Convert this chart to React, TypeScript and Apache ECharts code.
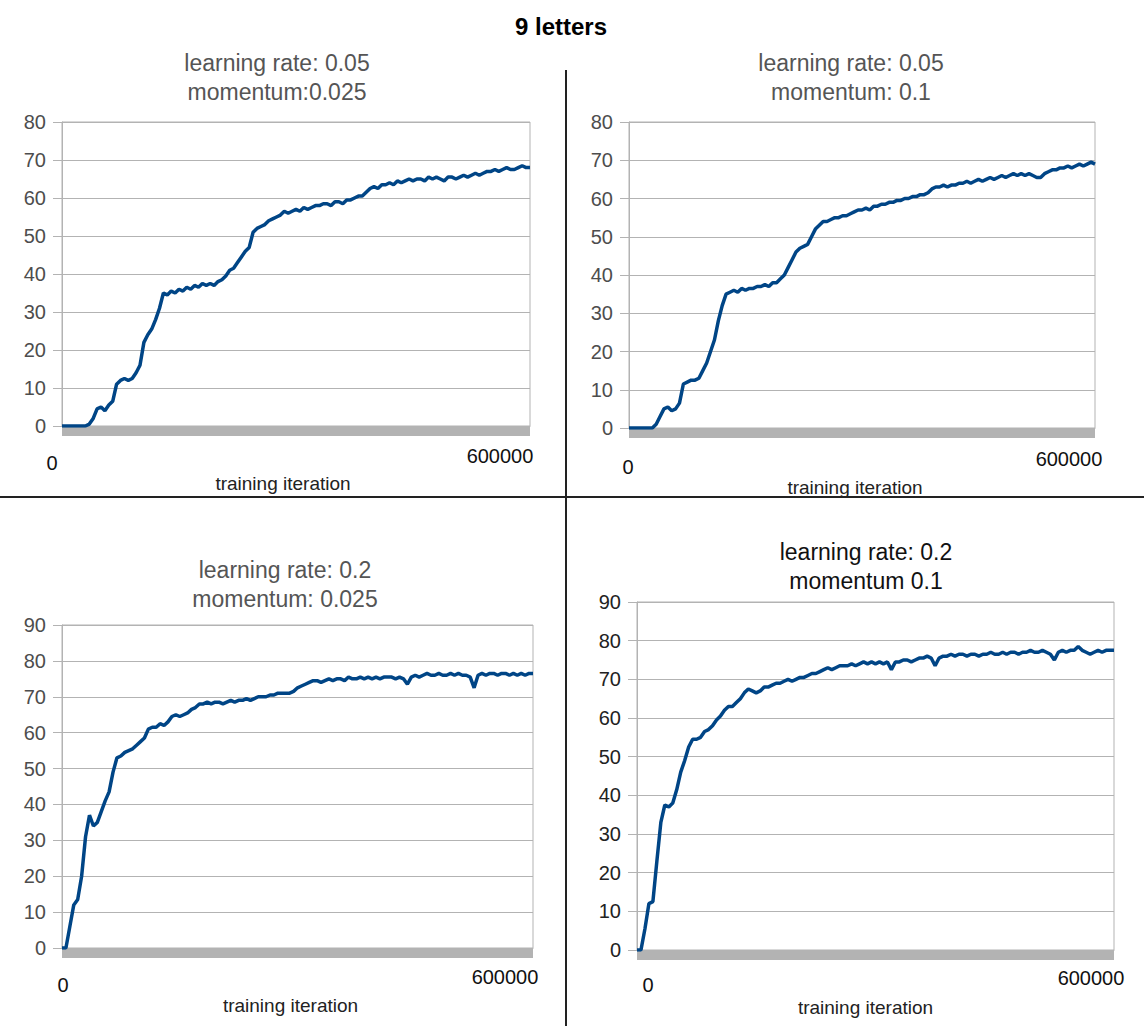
import React, { useEffect, useRef } from "react";
import * as echarts from "echarts";

// iteration step between samples (0 .. 600000)
const STEP = 5000;
const X_TICKS = ["0", "600000"];
const X_NAME = "training iteration";
const MAIN_TITLE = "9 letters";

const TITLES = [
  "learning rate: 0.05\nmomentum:0.025",
  "learning rate: 0.05\nmomentum: 0.1",
  "learning rate: 0.2\nmomentum: 0.025",
  "learning rate: 0.2\nmomentum 0.1",
];

const Y_MAX = [80, 80, 90, 90];

// lr 0.05, momentum 0.025
const seriesA = [
  0, 0, 0, 0, 0, 0, 0, 0.5, 2, 4.5, 5, 4, 5.5, 6.5, 11, 12, 12.5, 12, 12.5, 14,
  16, 22, 24, 25.5, 28, 31, 35, 34.5, 35.5, 35, 36, 35.5, 36.5, 36, 37, 36.5, 37.5, 37, 37.5, 37,
  38, 38.5, 39.5, 41, 41.5, 43, 44.5, 46, 47, 51, 52, 52.5, 53, 54, 54.5, 55, 55.5, 56.5, 56, 56.5,
  57, 56.5, 57.5, 57, 57.5, 58, 58, 58.5, 58.5, 58, 59, 59, 58.5, 59.5, 59.5, 60, 60.5, 60.5, 61.5, 62.5,
  63, 62.5, 63.5, 63.5, 64, 63.5, 64.5, 64, 64.5, 65, 64.5, 65, 65, 64.5, 65.5, 65, 65.5, 65, 64.5, 65.5,
  65.5, 65, 65.5, 66, 65.5, 66, 66.5, 66, 66.5, 67, 67, 67.5, 67, 67.5, 68, 67.5, 67.5, 68, 68.5, 68,
  68,
];

// lr 0.05, momentum 0.1
const seriesB = [
  0, 0, 0, 0, 0, 0, 0, 1, 3, 5, 5.5, 4.5, 5, 6.5, 11.5, 12, 12.5, 12.5, 13, 15,
  17, 20, 23, 28, 32, 35, 35.5, 36, 35.5, 36.5, 36, 36.5, 36.5, 37, 37, 37.5, 37, 38, 38, 39,
  40, 42, 44, 46, 47, 47.5, 48, 50, 52, 53, 54, 54, 54.5, 55, 55, 55.5, 55.5, 56, 56.5, 57,
  57, 57.5, 57, 58, 58, 58.5, 58.5, 59, 59, 59.5, 59.5, 60, 60, 60.5, 60.5, 61, 61, 61.5, 62.5, 63,
  63, 63.5, 63, 63.5, 63.5, 64, 64, 64.5, 64, 64.5, 65, 64.5, 65, 65.5, 65, 65.5, 66, 65.5, 66, 66.5,
  66, 66.5, 66, 66.5, 66, 65.5, 65.5, 66.5, 67, 67.5, 67.5, 68, 68, 68.5, 68, 68.5, 69, 68.5, 69, 69.5,
  69,
];

// lr 0.2, momentum 0.025
const seriesC = [
  0, 0, 6, 12, 13.5, 20, 31, 37, 34, 35, 38, 41, 43.5, 49, 53, 53.5, 54.5, 55, 55.5, 56.5,
  57.5, 58.5, 61, 61.5, 61.5, 62.5, 62, 63, 64.5, 65, 64.5, 65, 65.5, 66.5, 67, 68, 68, 68.5, 68, 68.5,
  68.5, 68, 68.5, 69, 68.5, 69, 69, 69.5, 69, 69.5, 70, 70, 70, 70.5, 70.5, 71, 71, 71, 71, 71.5,
  72.5, 73, 73.5, 74, 74.5, 74.5, 74, 74.5, 75, 74.5, 75, 75, 74.5, 75.5, 75, 75, 75.5, 75, 75.5, 75,
  75.5, 75, 75.5, 75.5, 75.5, 75, 75.5, 75, 73.5, 75.5, 76, 75.5, 76, 76.5, 76, 76, 76.5, 76, 76, 76.5,
  76, 76.5, 76, 76, 75.5, 72.5, 76, 76.5, 76, 76.5, 76.5, 76, 76.5, 76.5, 76, 76.5, 76, 76.5, 76, 76.5,
  76.5,
];

// lr 0.2, momentum 0.1
const seriesD = [
  0, 0, 5.5, 12, 12.5, 23, 33, 37.5, 37, 38, 41.5, 46, 49, 52.5, 54.5, 54.5, 55, 56.5, 57, 58,
  59.5, 60.5, 62, 63, 63, 64, 65, 66.5, 67.5, 67, 66.5, 67, 68, 68, 68.5, 69, 69, 69.5, 70, 69.5,
  70, 70.5, 70.5, 71, 71.5, 71.5, 72, 72.5, 73, 72.5, 73, 73.5, 73.5, 73.5, 74, 73.5, 74, 74.5, 74, 74.5,
  74, 74.5, 74, 74.5, 72.5, 74.5, 74.5, 75, 75, 74.5, 75, 75.5, 75.5, 76, 75.5, 73.5, 75.5, 76, 76, 76.5,
  76, 76.5, 76.5, 76, 76.5, 76.5, 76, 76.5, 76.5, 77, 76.5, 76.5, 77, 76.5, 77, 77, 76.5, 77, 77, 77.5,
  77, 77, 77.5, 77, 76.5, 75, 77, 77.5, 77, 77.5, 77.5, 78.5, 77.5, 77, 76.5, 77, 77.5, 77, 77.5, 77.5,
  77.5,
];

const ALL = [seriesA, seriesB, seriesC, seriesD];

// layout of the four panels
const GRIDS = [
  { left: 62, top: 122, width: 468, height: 304 },
  { left: 629, top: 122, width: 466, height: 306 },
  { left: 62, top: 625, width: 471, height: 323 },
  { left: 637, top: 602, width: 477, height: 348 },
];
const TITLE_POS = [
  { x: 277, y: 48 },
  { x: 851, y: 48 },
  { x: 285, y: 555 },
  { x: 866, y: 537 },
];
// horizontal shift of the "0" label and of the "600000" label (px)
const ZERO_SHIFT = [-10, -1, 1, 11];
const MAX_SHIFT = [-30, -26, -28, -23];
const LABEL_MARGIN = [20, 21, 19, 18];
const ZERO_DROP = [7, 8, 8, 7];
const NAME_GAP = [48, 48, 47, 48];
const NAME_SHIFT = [-13, -7, -7, -10];

const FONT = "Liberation Sans, Arial, sans-serif";
const GRID_COLOR = "#b3b3b3";
const LINE_COLOR = "#004586";

function pad(shift: number): number[] {
  // returns [left, right] padding to shift a centered label by `shift`
  return shift >= 0 ? [2 * shift, 0] : [0, -2 * shift];
}

export default function App() {
  const ref = useRef<HTMLDivElement>(null);
  useEffect(() => {
    if (!ref.current) return;
    const chart = echarts.init(ref.current, undefined, { renderer: "svg" });
    const grid: any[] = [];
    const xAxis: any[] = [];
    const yAxis: any[] = [];
    const series: any[] = [];
    const title: any[] = [
      {
        text: MAIN_TITLE,
        left: 556,
        top: 9,
        textAlign: "center",
        textStyle: { fontFamily: FONT, fontSize: 24, fontWeight: "bold", color: "#000" },
      },
    ];
    for (let i = 0; i < 4; i++) {
      const g = GRIDS[i];
      const dark = i === 3;
      grid.push({
        left: g.left,
        top: g.top,
        width: g.width,
        height: g.height,
        show: true,
        borderColor: GRID_COLOR,
        borderWidth: 1,
        backgroundColor: "transparent",
      });
      title.push({
        text: TITLES[i],
        left: TITLE_POS[i].x,
        top: TITLE_POS[i].y,
        textAlign: "center",
        padding: 0,
        textStyle: {
          fontFamily: FONT,
          fontSize: 23,
          fontWeight: "normal",
          lineHeight: 29,
          color: dark ? "#111" : "#555",
        },
      });
      const zp = pad(ZERO_SHIFT[i]);
      const mp = pad(MAX_SHIFT[i]);
      const ns = pad(NAME_SHIFT[i]);
      xAxis.push({
        type: "value",
        gridIndex: i,
        min: 0,
        max: 600000,
        interval: 600000,
        splitLine: { show: false },
        axisTick: { show: false },
        axisLine: { show: true, lineStyle: { color: GRID_COLOR, width: 1 } },
        axisLabel: {
          margin: LABEL_MARGIN[i],
          showMinLabel: true,
          showMaxLabel: true,
          fontFamily: FONT,
          fontSize: 20,
          color: "#111",
          formatter: (v: number) => (v === 0 ? `{z|${X_TICKS[0]}}` : `{m|${X_TICKS[1]}}`),
          rich: {
            z: { fontFamily: FONT, fontSize: 20, color: "#111", padding: [ZERO_DROP[i], zp[1], 0, zp[0]] },
            m: { fontFamily: FONT, fontSize: 20, color: "#111", padding: [0, mp[1], 0, mp[0]] },
          },
        },
        name: X_NAME,
        nameLocation: "middle",
        nameGap: NAME_GAP[i],
        nameTextStyle: {
          fontFamily: FONT,
          fontSize: 19,
          color: "#222",
          padding: [0, ns[1], 0, ns[0]],
        },
      });
      // grey floor band under the plot area
      xAxis.push({
        type: "value",
        gridIndex: i,
        min: 0,
        max: 600000,
        position: "bottom",
        offset: 5,
        splitLine: { show: false },
        axisTick: { show: false },
        axisLabel: { show: false },
        axisLine: { show: true, lineStyle: { color: GRID_COLOR, width: 9, cap: "butt" } },
      });
      yAxis.push({
        type: "value",
        gridIndex: i,
        min: 0,
        max: Y_MAX[i],
        interval: 10,
        axisLine: { show: true, lineStyle: { color: GRID_COLOR, width: 1 } },
        axisTick: { show: true, length: 9, lineStyle: { color: GRID_COLOR } },
        splitLine: { show: true, lineStyle: { color: GRID_COLOR, width: 1.2 } },
        axisLabel: {
          margin: 16,
          fontFamily: FONT,
          fontSize: 20,
          color: dark ? "#222" : "#4d4d4d",
        },
      });
      series.push({
        type: "line",
        xAxisIndex: i * 2,
        yAxisIndex: i,
        showSymbol: false,
        symbol: "none",
        lineStyle: { color: LINE_COLOR, width: 3.5 },
        data: ALL[i].map((v, k) => [k * STEP, v]),
        z: 5,
      });
    }
    chart.setOption({
      animation: false,
      backgroundColor: "#fff",
      title,
      grid,
      xAxis,
      yAxis,
      series,
      graphic: [
        {
          type: "line",
          shape: { x1: 566, y1: 70, x2: 566, y2: 1026 },
          style: { stroke: "#222", lineWidth: 2 },
        },
        {
          type: "line",
          shape: { x1: 0, y1: 497, x2: 1144, y2: 497 },
          style: { stroke: "#222", lineWidth: 2 },
        },
      ],
    });
    return () => chart.dispose();
  }, []);
  return (
    <div
      ref={ref}
      style={{ position: "fixed", left: 0, top: 0, width: 1144, height: 1026 }}
    />
  );
}
